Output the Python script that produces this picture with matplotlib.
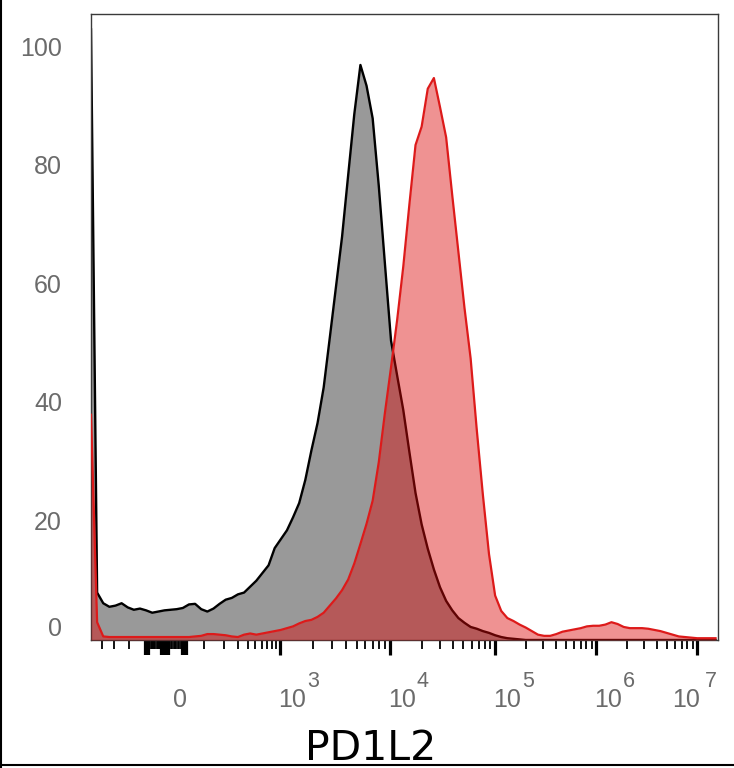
import numpy as np
import matplotlib
matplotlib.use('Agg')
import matplotlib.pyplot as plt
from matplotlib import transforms
from matplotlib.lines import Line2D

# ---------------- data ----------------
# biexponential display: anchor intensities and their display channels (0..1024)
anchor_values = [-1e9, -1000, -100, 0, 100, 1e3, 1e4, 1e5, 1e6, 1e7, 1e8, 1e12]
anchor_channels = [-967, -42, 100, 142, 184, 309, 488, 660, 825, 990, 1155, 1815]

# histogram channels (every 10 display channels)
hist_channels = np.arange(0, 1021, 10)

# counts (% of max) for the grey (control) histogram
grey_counts = [
    103, 8.0, 6.2, 5.6, 5.8, 6.2, 5.5, 5.1, 5.3, 5.0,
    4.6, 4.8, 5.0, 5.1, 5.2, 5.4, 6.0, 6.1, 5.2, 4.8,
    5.3, 6.1, 6.8, 7.1, 7.7, 8.0, 9.0, 10.0, 11.3, 12.6,
    15.5, 17.0, 18.5, 20.7, 23.1, 27.0, 32.0, 36.6, 42.6, 51.0,
    59.5, 68.0, 78.4, 88.7, 97.0, 93.5, 88.0, 76.6, 63.5, 50.5,
    44.6, 38.8, 31.7, 24.8, 19.5, 15.4, 11.9, 8.9, 6.6, 5.0,
    3.7, 2.9, 2.2, 1.9, 1.5, 1.2, 0.8, 0.5, 0.3, 0.2,
    0.1, 0, 0, 0, 0, 0, 0, 0, 0, 0,
    0, 0, 0, 0, 0, 0, 0, 0, 0, 0,
    0, 0, 0, 0, 0, 0, 0, 0, 0, 0,
    0, 0, 0,
]

# counts for the red (PD1L2 stained) histogram
red_counts = [
    38, 3.0, 0.6, 0.5, 0.5, 0.5, 0.5, 0.5, 0.5, 0.5,
    0.5, 0.5, 0.5, 0.5, 0.5, 0.5, 0.5, 0.6, 0.7, 1.0,
    1.0, 0.9, 0.8, 0.6, 0.5, 0.9, 1.1, 0.9, 1.1, 1.3,
    1.5, 1.7, 2.0, 2.3, 2.8, 3.2, 3.4, 3.9, 4.6, 5.8,
    7.0, 8.4, 10.2, 12.9, 16.2, 19.6, 23.5, 30.0, 38.3, 46.0,
    54.0, 63.0, 73.5, 83.5, 86.6, 93.0, 94.8, 89.9, 84.8, 75.0,
    65.5, 56.0, 47.5, 35.5, 24.5, 14.5, 7.5, 4.9, 3.7, 3.2,
    2.6, 2.1, 1.5, 0.9, 0.7, 0.7, 1.0, 1.4, 1.6, 1.8,
    2.0, 2.3, 2.4, 2.4, 2.6, 3.0, 2.7, 2.2, 2.0, 2.0,
    2.0, 1.9, 1.7, 1.5, 1.2, 0.9, 0.6, 0.5, 0.4, 0.3,
    0.3, 0.3, 0.3,
]

y_ticks = [0, 20, 40, 60, 80, 100]
major_ticks = [1e3, 1e4, 1e5, 1e6, 1e7]
major_exponents = ['3', '4', '5', '6', '7']
neg_ticks = [-400, -300, -200]
zero_block_ticks = list(range(-125, 31, 5))
long_block_ticks = [-125, -120, -115, -110, -60, -55, -50, -45, -40, -35, -30, 15, 20, 25, 30]
lin_ticks = [100, 200, 300, 400, 500, 600, 700, 800, 900]
log_minor = [k * 10 ** e for e in range(3, 7) for k in range(2, 10)]

# ---------------- scale ----------------
A = np.arcsinh(np.array(anchor_values, float) / 100.0)
CH = np.array(anchor_channels, float)


def fwd(x):
    return np.interp(np.arcsinh(np.asarray(x, float) / 100.0), A, CH)


def inv(c):
    return 100.0 * np.sinh(np.interp(np.asarray(c, float), CH, A))


W, H = 734, 768
fig = plt.figure(figsize=(W / 100, H / 100), dpi=100)
ax = fig.add_axes([91 / W, (H - 640) / H, 627 / W, 626 / H])
ax.set_xscale('function', functions=(fwd, inv))
ax.set_xlim(inv(0), inv(1024))
ax.set_ylim(0, 105.6)

x = inv(hist_channels)
grey = np.array(grey_counts)
red = np.array(red_counts)

ax.fill_between(x, grey, 0, color='#999999', lw=0, zorder=1)
ax.plot(x, grey, color='black', lw=1.7, zorder=2)
ax.fill_between(x, red, 0, color=(0.86, 0.03, 0.03), alpha=0.44, lw=0, zorder=3)
ax.plot(x, red, color='#dd1a1a', lw=1.6, zorder=4)

for s in ax.spines.values():
    s.set_color('#3a3a3a')
    s.set_linewidth(1.0)

# ticks
ax.set_xticks(major_ticks)
ax.set_xticks(neg_ticks + zero_block_ticks + lin_ticks + log_minor, minor=True)
ax.tick_params(axis='x', which='major', direction='out', length=11, width=2.3,
               color='black', labelbottom=False)
ax.tick_params(axis='x', which='minor', direction='out', length=6.5, width=1.3,
               color='black', labelbottom=False)
ax.set_yticks(y_ticks)
ax.tick_params(axis='y', length=0, labelleft=False)
ax.vlines(long_block_ticks, -15 / 626, 0, transform=ax.get_xaxis_transform(),
          clip_on=False, color='black', lw=1.6)

lab_color = '#6b6b6b'
lab_family = ['Liberation Sans', 'DejaVu Sans']


def off(dx_px, dy_px=0):
    return transforms.ScaledTranslation(dx_px / 100, dy_px / 100, fig.dpi_scale_trans)


tx = transforms.blended_transform_factory(ax.transData, fig.transFigure)
ax.text(0, 61 / H, '0', transform=tx + off(2), ha='center', va='baseline',
        fontsize=18, color=lab_color, family=lab_family)
for v, e in zip(major_ticks, major_exponents):
    dxb, dxe = (-2, 27) if v < 5e6 else (-25, 8)
    ax.text(v, 61 / H, '10', transform=tx + off(dxb), ha='left', va='baseline',
            fontsize=18, color=lab_color, family=lab_family)
    ax.text(v, 81 / H, e, transform=tx + off(dxe), ha='left', va='baseline',
            fontsize=15.5, color=lab_color, family=lab_family)

ty = transforms.blended_transform_factory(fig.transFigure, ax.transData)
for v in y_ticks:
    dy = 11 if v == 0 else -1.5
    ax.text(62 / W, v, str(v), transform=ty + off(0, dy), ha='right', va='center',
            fontsize=18, color=lab_color, family=lab_family)

fig.text(371 / W, 8 / H, 'PD1L2', ha='center', va='baseline', fontsize=29.5,
         color='black', family='DejaVu Sans')

# outer border (left and bottom)
fig.add_artist(Line2D([1 / W, 1 / W], [0, 1], transform=fig.transFigure,
                      color='black', lw=1.5))
fig.add_artist(Line2D([0, 1], [3 / H, 3 / H], transform=fig.transFigure,
                      color='black', lw=1.5))

fig.savefig('out.png', dpi=100)
